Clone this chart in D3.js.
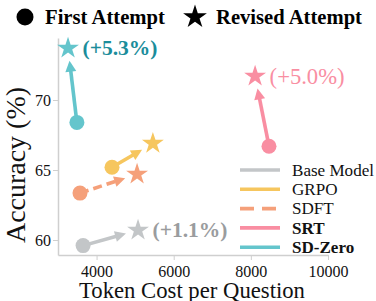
<!DOCTYPE html>
<html>
<head>
<meta charset="utf-8">
<script src="https://cdn.jsdelivr.net/npm/d3@7"></script>
<style>
  html, body { margin: 0; padding: 0; background: #fff; }
  svg { display: block; font-family: "Liberation Serif", "Times New Roman", serif; }
</style>
</head>
<body>
<svg id="chart" width="376" height="301"></svg>
<script>
// methods, first attempt -> revised attempt (token cost, accuracy %)
const methods   = ['Base Model', 'GRPO', 'SDFT', 'SRT', 'SD-Zero'];
const colors    = ['#c3c6c8', '#f6c65e', '#f5a07a', '#f98ea2', '#64c5cc'];
const dashed    = [false, false, true, false, false];
const boldLabel = [false, false, false, true, true];
const firstCost = [3650, 4400, 3570, 8470, 3490];
const firstAcc  = [59.6, 65.2, 63.35, 66.7, 68.4];
const revCost   = [5075, 5460, 5050, 8110, 3260];
const revAcc    = [60.7, 66.9, 64.7, 71.7, 73.7];

// gain annotations next to revised stars
const notes      = ['(+1.1%)', '(+5.0%)', '(+5.3%)'];
const noteMethod = ['Base Model', 'SRT', 'SD-Zero'];
const noteColor  = ['#9a9c9e', '#f98ea2', '#1b8d9b'];
const noteBold   = [true, false, true];

const xTicks = [4000, 6000, 8000, 10000];
const yTicks = [60, 65, 70];

const svg = d3.select('#chart');
const x = d3.scaleLinear().domain([3000, 10000]).range([58, 328]);
const y = d3.scaleLinear().domain([58.93, 74.43]).range([255, 38]);

const axisColor = '#cfcfcf';

// scale a text's font so it spans the width seen in the original figure
function fit(sel, w) {
  const fs = +sel.attr('font-size');
  const cur = sel.node().getComputedTextLength();
  if (cur > 0) sel.attr('font-size', (fs * w / cur).toFixed(2));
  return sel;
}

// axes
const xAxis = svg.append('g').attr('transform', `translate(0,${y.range()[0]})`)
  .call(d3.axisBottom(x).tickValues(xTicks).tickSize(5).tickSizeOuter(0).tickFormat(d3.format('d')));
const yAxis = svg.append('g').attr('transform', `translate(${x.range()[0]},0)`)
  .call(d3.axisLeft(y).tickValues(yTicks).tickSize(5).tickSizeOuter(0));
[xAxis, yAxis].forEach(g => {
  g.attr('font-family', null);
  g.select('.domain').attr('stroke', axisColor).attr('stroke-width', 1.5);
  g.selectAll('.tick line').attr('stroke', axisColor).attr('stroke-width', 1);
  g.selectAll('.tick text').attr('fill', '#111').attr('font-size', 16);
});
xAxis.selectAll('.tick text').attr('dy', '0.85em');
yAxis.selectAll('.tick text').attr('x', -7);

fit(svg.append('text').attr('x', 192).attr('y', 297.5).attr('text-anchor', 'middle')
  .attr('font-size', 21).attr('fill', '#111').text('Token Cost per Question'), 226);
fit(svg.append('text').attr('transform', 'translate(25,165) rotate(-90)')
  .attr('text-anchor', 'middle').attr('font-size', 21).attr('fill', '#111').text('Accuracy (%)'), 156);

// arrows + markers
const starR = 11.5, circR = 7.5;
const star = d3.symbol().type(d3.symbolStar).size(starR * starR / 0.8908130915);
const plot = svg.append('g');
methods.forEach((m, i) => {
  const x0 = x(firstCost[i]), y0 = y(firstAcc[i]);
  const x1 = x(revCost[i]), y1 = y(revAcc[i]);
  const dx = x1 - x0, dy = y1 - y0, len = Math.hypot(dx, dy);
  const ux = dx / len, uy = dy / len;
  const tipD = len - starR - 1, headL = 11, headW = 5.5;
  const tx = x0 + ux * tipD, ty = y0 + uy * tipD;
  const bx = tx - ux * headL, by = ty - uy * headL;
  plot.append('line')
    .attr('x1', x0).attr('y1', y0).attr('x2', bx + ux * 2).attr('y2', by + uy * 2)
    .attr('stroke', colors[i]).attr('stroke-width', 3.6)
    .attr('stroke-dasharray', dashed[i] ? '9,5' : null);
  plot.append('path')
    .attr('d', `M${tx},${ty}L${bx - uy * headW},${by + ux * headW}L${bx + uy * headW},${by - ux * headW}Z`)
    .attr('fill', colors[i]);
  plot.append('circle').attr('cx', x0).attr('cy', y0).attr('r', circR).attr('fill', colors[i]);
  plot.append('path').attr('d', star()).attr('transform', `translate(${x1},${y1})`).attr('fill', colors[i]);
});

// gain labels
notes.forEach((t, k) => {
  const i = methods.indexOf(noteMethod[k]);
  fit(svg.append('text')
    .attr('x', x(revCost[i]) + starR + 3).attr('y', y(revAcc[i]))
    .attr('dy', '0.33em').attr('font-size', 21)
    .attr('font-weight', noteBold[k] ? 700 : 400)
    .attr('fill', noteColor[k]).text(t), 75);
});

// top legend: marker shapes
const markerLeg = svg.append('g');
markerLeg.append('circle').attr('cx', 25).attr('cy', 17).attr('r', 8.5).attr('fill', '#000');
fit(markerLeg.append('text').attr('x', 45).attr('y', 24).attr('font-size', 20).attr('font-weight', 700)
  .attr('fill', '#000').text('First Attempt'), 120);
markerLeg.append('path').attr('d', d3.symbol().type(d3.symbolStar).size(12.5 * 12.5 / 0.8908130915)())
  .attr('transform', 'translate(195,17)').attr('fill', '#000');
fit(markerLeg.append('text').attr('x', 216).attr('y', 24).attr('font-size', 20).attr('font-weight', 700)
  .attr('fill', '#000').text('Revised Attempt'), 146);

// method legend
const leg = svg.append('g').attr('transform', 'translate(240,170)');
let legSize = 16.5;
methods.forEach((m, i) => {
  const row = leg.append('g').attr('transform', `translate(0,${i * 19.3})`);
  row.append('line').attr('x1', 0).attr('x2', 40).attr('y1', 0).attr('y2', 0)
    .attr('stroke', colors[i]).attr('stroke-width', 3.6)
    .attr('stroke-dasharray', dashed[i] ? '14,8' : null);
  const t = row.append('text').attr('x', 52).attr('y', 0).attr('dy', '0.33em')
    .attr('font-size', legSize).attr('font-weight', boldLabel[i] ? 700 : 400)
    .attr('fill', '#111').text(m);
  if (i === 0) { fit(t, 82); legSize = +t.attr('font-size'); }
});
</script>
</body>
</html>
